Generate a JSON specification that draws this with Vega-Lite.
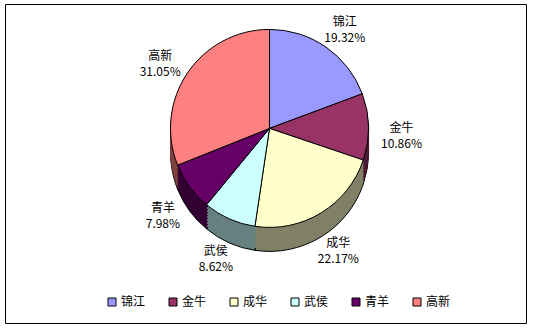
{
  "$schema": "https://vega.github.io/schema/vega-lite/v6.json",
  "width": 521,
  "height": 319,
  "padding": {"left": 5, "top": 4, "right": 7, "bottom": 5},
  "background": "white",
  "view": {"stroke": "black", "strokeWidth": 1},
  "config": {"view": {"stroke": "black", "strokeWidth": 1}, "font": "Noto Sans CJK SC"},
  "data": {"values": [
    {"name": "锦江", "v": 19.32, "pct": "19.32%", "i": 1},
    {"name": "金牛", "v": 10.86, "pct": "10.86%", "i": 2},
    {"name": "成华", "v": 22.17, "pct": "22.17%", "i": 3},
    {"name": "武侯", "v": 8.62, "pct": "8.62%", "i": 4},
    {"name": "青羊", "v": 7.98, "pct": "7.98%", "i": 5},
    {"name": "高新", "v": 31.05, "pct": "31.05%", "i": 6}
  ]},
  "encoding": {
    "theta": {"field": "v", "type": "quantitative", "stack": true},
    "order": {"field": "i", "type": "quantitative"}
  },
  "layer": [
    {
      "encoding": {
        "color": {"field": "name", "type": "nominal", "legend": null,
          "scale": {"domain": ["锦江", "金牛", "成华", "武侯", "青羊", "高新"],
                    "range": ["#4D4D80", "#4D1A33", "#808066", "#668080", "#330033", "#804040"]}},
        "stroke": {"field": "name", "type": "nominal", "legend": null,
          "scale": {"domain": ["锦江", "金牛", "成华", "武侯", "青羊", "高新"],
                    "range": ["#4D4D80", "#4D1A33", "#808066", "#668080", "#330033", "#804040"]}}
      },
      "layer": [
        {"mark": {"type": "arc", "radius": 99, "x": {"expr": "width/2+4"}, "y": {"expr": "height*0.39+24"}, "stroke": "black", "strokeWidth": 1}, "encoding": {"stroke": {"value": "black"}}},
        {"mark": {"type": "arc", "radius": 99, "x": {"expr": "width/2+4"}, "y": {"expr": "height*0.39+21"}, "strokeWidth": 1}},
        {"mark": {"type": "arc", "radius": 99, "x": {"expr": "width/2+4"}, "y": {"expr": "height*0.39+18"}, "strokeWidth": 1}},
        {"mark": {"type": "arc", "radius": 99, "x": {"expr": "width/2+4"}, "y": {"expr": "height*0.39+15"}, "strokeWidth": 1}},
        {"mark": {"type": "arc", "radius": 99, "x": {"expr": "width/2+4"}, "y": {"expr": "height*0.39+12"}, "strokeWidth": 1}},
        {"mark": {"type": "arc", "radius": 99, "x": {"expr": "width/2+4"}, "y": {"expr": "height*0.39+9"}, "strokeWidth": 1}},
        {"mark": {"type": "arc", "radius": 99, "x": {"expr": "width/2+4"}, "y": {"expr": "height*0.39+6"}, "strokeWidth": 1}},
        {"mark": {"type": "arc", "radius": 99, "x": {"expr": "width/2+4"}, "y": {"expr": "height*0.39+3"}, "strokeWidth": 1}}
      ]
    },
    {
      "mark": {"type": "arc", "radius": 99, "x": {"expr": "width/2+4"}, "y": {"expr": "height*0.39"}, "stroke": "black", "strokeWidth": 1},
      "encoding": {
        "color": {"field": "name", "type": "nominal",
          "scale": {"domain": ["锦江", "金牛", "成华", "武侯", "青羊", "高新"],
                    "range": ["#9999FF", "#993366", "#FFFFCC", "#CCFFFF", "#660066", "#FF8080"]},
          "legend": {"orient": "none", "legendX": 101, "legendY": 292, "direction": "horizontal", "title": null,
                     "symbolType": "square", "symbolSize": 64, "symbolStrokeColor": "black", "symbolStrokeWidth": 1,
                     "labelFontSize": 12, "labelColor": "black", "columnPadding": 21, "labelOffset": 3}}
      }
    },
    {
      "mark": {"type": "text", "radius": 132, "x": {"expr": "width/2+4"}, "y": {"expr": "height*0.39"}, "dy": 2, "fontSize": 12, "fill": "black"},
      "encoding": {"text": {"field": "name"}}
    },
    {
      "mark": {"type": "text", "radius": 132, "x": {"expr": "width/2+4"}, "y": {"expr": "height*0.39"}, "dy": 18, "fontSize": 12, "fill": "black"},
      "encoding": {"text": {"field": "pct"}}
    }
  ],
  "resolve": {"scale": {"color": "independent", "stroke": "independent"}}
}
